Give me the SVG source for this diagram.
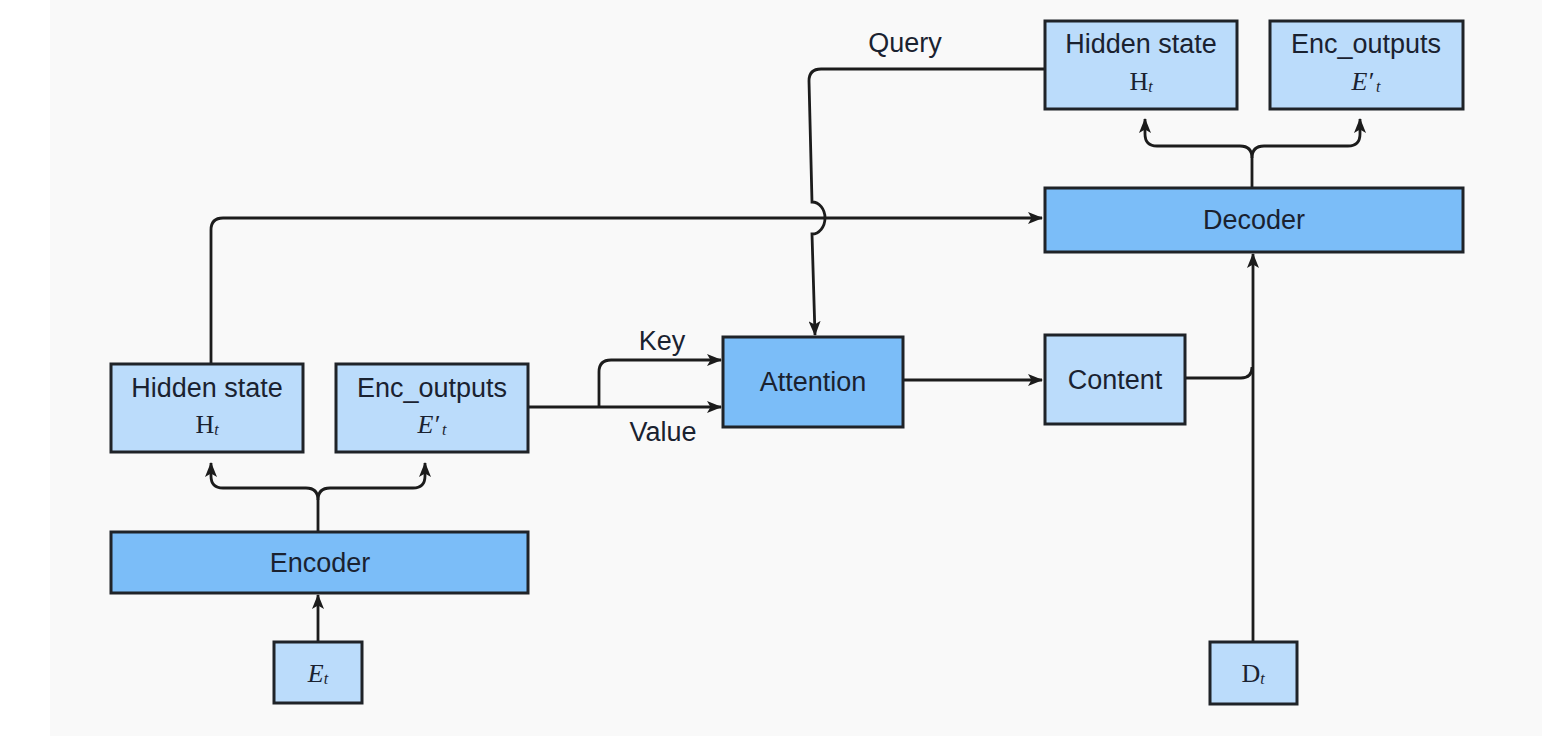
<svg xmlns="http://www.w3.org/2000/svg" width="1542" height="736" viewBox="0 0 1542 736">
<defs>
<marker id="ah" markerUnits="userSpaceOnUse" viewBox="0 0 15 12" refX="14" refY="6" markerWidth="15" markerHeight="12" orient="auto">
<path d="M0,0 L15,6 L0,12 L3.5,6 z" fill="#1c1c1c"/>
</marker>
<style>
.lt{fill:#bbdcfb;stroke:#1f2328;stroke-width:3}
.dk{fill:#7bbdf8;stroke:#1f2328;stroke-width:3}
.lbl{font-family:"Liberation Sans",Arial,sans-serif;font-size:27px;fill:#1a2230;text-anchor:middle}
.mth{font-family:"Liberation Serif","Times New Roman",serif;font-size:26px;fill:#1a2230;text-anchor:middle}
.sub{font-size:16px;font-style:italic}
.edge{fill:none;stroke:#1c1c1c;stroke-width:2.8}
.arr{marker-end:url(#ah)}
</style>
</defs>
<rect x="0" y="0" width="1542" height="736" fill="#ffffff"/>
<rect x="50" y="0" width="1492" height="736" fill="#f9f9f9"/>

<g id="connectors">
<path class="edge arr" d="M318,642 L318,595"/>
<path class="edge arr" d="M318,532 L318,500 Q318,488 306,488 L223,488 Q211,488 211,476 L211,463"/>
<path class="edge arr" d="M318,500 Q318,488 330,488 L413,488 Q425,488 425,476 L425,463"/>
<path class="edge arr" d="M211,363 L211,230 Q211,218 223,218 L1042,218"/>
<path class="edge arr" d="M528,407 L721,407"/>
<path class="edge arr" d="M599,407 L599,372 Q599,360 611,360 L721,360"/>
<path class="edge arr" d="M1045,69 L821,69 Q809,69 809,81 L812,202 A13,16 0 0 1 812,234 L815,335"/>
<path class="edge arr" d="M903,380 L1042,380"/>
<path class="edge" d="M1185,378 L1241,378 Q1252,378 1252,367"/>
<path class="edge arr" d="M1253,642 L1253,254"/>
<path class="edge arr" d="M1252,188 L1252,158 Q1252,146 1240,146 L1157,146 Q1145,146 1145,134 L1145,119"/>
<path class="edge arr" d="M1252,158 Q1252,146 1264,146 L1348,146 Q1360,146 1360,134 L1360,119"/>
<text class="lbl" x="905" y="52">Query</text>
<text class="lbl" x="662" y="350">Key</text>
<text class="lbl" x="663" y="441">Value</text>
</g>

<g id="enc-hidden">
<rect class="lt" x="111" y="364" width="192" height="88"/>
<text class="lbl" x="207" y="397">Hidden state</text>
<text class="mth" x="207" y="433">H<tspan class="sub" dy="2">t</tspan></text>
</g>
<g id="enc-outputs">
<rect class="lt" x="336" y="364" width="192" height="88"/>
<text class="lbl" x="432" y="397">Enc_outputs</text>
<text class="mth" x="432" y="433"><tspan font-style="italic">E′</tspan><tspan class="sub" dy="2" dx="3">t</tspan></text>
</g>
<g id="encoder">
<rect class="dk" x="111" y="532" width="417" height="61"/>
<text class="lbl" x="320" y="572">Encoder</text>
</g>
<g id="et">
<rect class="lt" x="274" y="642" width="88" height="61"/>
<text class="mth" x="318" y="682" font-size="27"><tspan font-style="italic">E</tspan><tspan class="sub" dy="2">t</tspan></text>
</g>
<g id="attention">
<rect class="dk" x="723" y="337" width="180" height="90"/>
<text class="lbl" x="813" y="391">Attention</text>
</g>
<g id="content">
<rect class="lt" x="1045" y="335" width="140" height="89"/>
<text class="lbl" x="1115" y="389">Content</text>
</g>
<g id="decoder">
<rect class="dk" x="1045" y="188" width="418" height="64"/>
<text class="lbl" x="1254" y="229">Decoder</text>
</g>
<g id="dec-hidden">
<rect class="lt" x="1045" y="21" width="192" height="88"/>
<text class="lbl" x="1141" y="53">Hidden state</text>
<text class="mth" x="1141" y="90">H<tspan class="sub" dy="2">t</tspan></text>
</g>
<g id="dec-outputs">
<rect class="lt" x="1270" y="21" width="193" height="88"/>
<text class="lbl" x="1366" y="53">Enc_outputs</text>
<text class="mth" x="1366" y="90"><tspan font-style="italic">E′</tspan><tspan class="sub" dy="2" dx="3">t</tspan></text>
</g>
<g id="dt">
<rect class="lt" x="1210" y="642" width="87" height="62"/>
<text class="mth" x="1253" y="682" font-size="27">D<tspan class="sub" dy="2">t</tspan></text>
</g>
</svg>
